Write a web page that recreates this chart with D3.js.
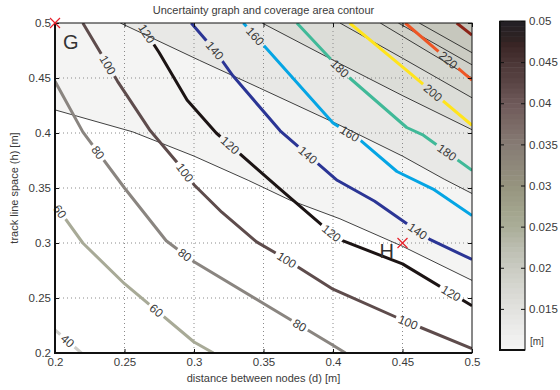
<!DOCTYPE html>
<meta charset="utf-8">
<head>
    <script src="https://cdn.jsdelivr.net/npm/d3@7"></script>
</head>
<style>
    body{ margin:0; background:#fff; }
    text{ font-family: "Liberation Sans", Arial, sans-serif; fill:#3a3a3a; }
</style>
<svg width="560" height="390"></svg>
<script>
    var xTicks = [0.2,0.25,0.3,0.35,0.4,0.45,0.5],
        yTicks = [0.2,0.25,0.3,0.35,0.4,0.45,0.5],
        cbTicks = [0.015,0.02,0.025,0.03,0.035,0.04,0.045,0.05];

    // uncertainty contours, thin black lines, points [d, h]
    var u1 = [[0.2,0.421],[0.256,0.401],[0.30,0.379],[0.339,0.357],[0.369,0.339],[0.405,0.322],[0.45,0.297],[0.5,0.266]],
        u2 = [[0.247,0.5],[0.304,0.466],[0.347,0.441],[0.405,0.407],[0.45,0.379],[0.48,0.358],[0.5,0.345]],
        u3 = [[0.349,0.5],[0.405,0.463],[0.45,0.434],[0.5,0.403]],
        u4 = [[0.405,0.5],[0.45,0.468],[0.5,0.432]],
        u5 = [[0.434,0.5],[0.5,0.45]],
        u6 = [[0.447,0.5],[0.5,0.462]],
        u7 = [[0.462,0.5],[0.5,0.473]];
    var uLevels = [0.0106,0.0135,0.0162,0.0176,0.0188,0.0198,0.0207];

    // coverage area contours, coloured lines
    var c40  = [[0.2,0.221],[0.219,0.2]],
        c60  = [[0.2,0.335],[0.22,0.300],[0.25,0.263],[0.30,0.210],[0.314,0.2]],
        c80  = [[0.2,0.447],[0.22,0.401],[0.25,0.350],[0.28,0.302],[0.30,0.283],[0.35,0.245],[0.40,0.207],[0.409,0.2]],
        c100 = [[0.22,0.5],[0.245,0.447],[0.268,0.403],[0.29,0.37],[0.30,0.353],[0.32,0.328],[0.345,0.301],[0.36,0.290],[0.40,0.258],[0.45,0.230],[0.5,0.204]],
        c120 = [[0.261,0.5],[0.275,0.473],[0.295,0.43],[0.316,0.400],[0.362,0.349],[0.395,0.313],[0.405,0.303],[0.45,0.281],[0.5,0.243]],
        c140 = [[0.298,0.5],[0.315,0.475],[0.328,0.452],[0.362,0.402],[0.403,0.357],[0.43,0.338],[0.455,0.316],[0.47,0.303],[0.5,0.285]],
        c160 = [[0.3355,0.5],[0.352,0.477],[0.40,0.409],[0.42,0.393],[0.446,0.365],[0.472,0.349],[0.5,0.325]],
        c180 = [[0.374,0.5],[0.400,0.465],[0.412,0.450],[0.453,0.405],[0.465,0.398],[0.5,0.366]],
        c200 = [[0.412,0.5],[0.453,0.457],[0.5,0.407]],
        c220 = [[0.452,0.5],[0.5,0.448]],
        c240 = [[0.489,0.5],[0.5,0.489]];
    var levels = [40,60,80,100,120,140,160,180,200,220,240],
        levelColors = ['#cfcfcb','#a8aa97','#8a8580','#5e4c4c','#1c1414','#2b3595','#05a5e4','#40b998','#ffe41c','#ee5524','#8c2418'];

    // labels: [level, d]
    var labelAt = [[40,0.209],[60,0.2036],[60,0.273],[80,0.231],[80,0.2935],[80,0.376],
                   [100,0.238],[100,0.2935],[100,0.3667],[100,0.454],
                   [120,0.266],[120,0.326],[120,0.399],[120,0.485],
                   [140,0.315],[140,0.382],[140,0.461],[160,0.344],[160,0.412],
                   [180,0.405],[180,0.482],[200,0.472],[220,0.483]];

    // colormap stops
    var cmapVals = [0.01,0.0125,0.015,0.0175,0.02,0.0225,0.025,0.0275,0.03,0.0325,0.035,0.0375,0.04,0.0425,0.045,0.047,0.048,0.05],
        cmapCols = ['#f6f6f6','#ececea','#e2e2df','#d6d7d1','#cacbc2','#bbbdb0','#aaad98','#a0a18a','#96947f','#8e877a','#867b74','#7a6a66','#6e5959','#5a4545','#4b3636','#3b2626','#2e2222','#222025'];

    var uLines = [u1,u2,u3,u4,u5,u6,u7];
    var cLines = [c40,c60,c80,c100,c120,c140,c160,c180,c200,c220,c240];

    var svg = d3.select('svg');
    var L = 55, R = 472, T = 23, B = 353;
    var x = d3.scaleLinear().domain([0.2,0.5]).range([L,R]),
        y = d3.scaleLinear().domain([0.2,0.5]).range([B,T]),
        color = d3.scaleLinear().domain(cmapVals).range(cmapCols).interpolate(d3.interpolateRgb),
        cy = d3.scaleLinear().domain([0.01,0.05]).range([350,21]);

    var line = d3.line().x(function(d){ return x(d[0]); }).y(function(d){ return y(d[1]); });

    var defs = svg.append('defs');
    defs.append('clipPath').attr('id','plot').append('rect')
        .attr('x',L).attr('y',T).attr('width',R-L).attr('height',B-T);

    var g = svg.append('g').attr('clip-path','url(#plot)');
    g.append('rect').attr('x',L).attr('y',T).attr('width',R-L).attr('height',B-T).style('fill','#fff');

    // filled bands: area above/right of each uncertainty line
    uLines.forEach(function(pts,i){
        var poly = pts.concat([[0.5,0.5],[pts[0][0],0.5]]);
        g.append('path').attr('d', line(poly)+'Z').style('fill', color(uLevels[i])).style('stroke','none');
    });

    // grid
    var grid = g.append('g').style('stroke','#8a8a8a').style('stroke-dasharray','1,3').style('stroke-width',1);
    xTicks.slice(1,-1).forEach(function(t){
        grid.append('line').attr('x1',x(t)).attr('x2',x(t)).attr('y1',T).attr('y2',B);
    });
    yTicks.slice(1,-1).forEach(function(t){
        grid.append('line').attr('y1',y(t)).attr('y2',y(t)).attr('x1',L).attr('x2',R);
    });

    uLines.forEach(function(pts){
        g.append('path').attr('d', line(pts)).style('fill','none').style('stroke','#111').style('stroke-width',0.8);
    });

    // label placement
    function pointAt(pts, d){
        var px = x(d);
        for(var i=0;i<pts.length-1;i++){
            var x0 = x(pts[i][0]), x1 = x(pts[i+1][0]);
            if(px >= x0 && px <= x1 || i == pts.length-2){
                var y0 = y(pts[i][1]), y1 = y(pts[i+1][1]);
                var t = (px-x0)/(x1-x0);
                return {x:px, y:y0+t*(y1-y0), a:Math.atan2(y1-y0, x1-x0)*180/Math.PI};
            }
        }
    }
    var labels = labelAt.map(function(l){
        var p = pointAt(cLines[levels.indexOf(l[0])], l[1]);
        p.text = String(l[0]);
        return p;
    });

    var mask = defs.append('mask').attr('id','gaps').attr('maskUnits','userSpaceOnUse')
        .attr('x',0).attr('y',0).attr('width',560).attr('height',390);
    mask.append('rect').attr('x',0).attr('y',0).attr('width',560).attr('height',390).style('fill','#fff');
    labels.forEach(function(p){
        var w = p.text.length*7+5;
        mask.append('rect').attr('x',-w/2).attr('y',-6).attr('width',w).attr('height',12)
            .attr('transform','translate('+p.x+','+p.y+') rotate('+p.a+')').style('fill','#000');
    });

    var cg = g.append('g').attr('mask','url(#gaps)');
    cLines.forEach(function(pts,i){
        cg.append('path').attr('d', line(pts)).style('fill','none')
            .style('stroke', levelColors[i]).style('stroke-width',3).style('stroke-linejoin','round');
    });

    labels.forEach(function(p){
        svg.append('text').text(p.text)
            .attr('transform','translate('+p.x+','+p.y+') rotate('+p.a+')')
            .attr('text-anchor','middle').attr('dy','0.36em').style('font-size','12px');
    });

    // box and axes
    svg.append('rect').attr('x',L).attr('y',T).attr('width',R-L).attr('height',B-T)
        .style('fill','none').style('stroke','#111').style('stroke-width',1);
    svg.append('path').attr('d','M'+L+','+T+'V'+B+'H'+R).style('fill','none').style('stroke','#111').style('stroke-width',2);

    function styleAxis(sel){
        sel.select('.domain').remove();
        sel.selectAll('line').style('stroke','#111');
        sel.selectAll('text').style('font-size','11.5px').style('fill','#3a3a3a').style('font-family','"Liberation Sans", Arial, sans-serif');
    }
    svg.append('g').attr('transform','translate(0,'+B+')')
        .call(d3.axisBottom(x).tickValues(xTicks).tickFormat(d3.format('')).tickSize(-4).tickPadding(5)).call(styleAxis);
    svg.append('g').attr('transform','translate(0,'+T+')')
        .call(d3.axisTop(x).tickValues(xTicks).tickFormat('').tickSize(-4)).call(styleAxis);
    svg.append('g').attr('transform','translate('+L+',0)')
        .call(d3.axisLeft(y).tickValues(yTicks).tickFormat(d3.format('')).tickSize(-4).tickPadding(4)).call(styleAxis);
    svg.append('g').attr('transform','translate('+R+',0)')
        .call(d3.axisRight(y).tickValues(yTicks).tickFormat('').tickSize(-4)).call(styleAxis);

    // markers
    [[0.2,0.5],[0.45,0.3]].forEach(function(m){
        var mx = x(m[0]), my = y(m[1]), s = 5;
        svg.append('path').attr('d','M'+(mx-s)+','+(my-s)+'L'+(mx+s)+','+(my+s)+'M'+(mx-s)+','+(my+s)+'L'+(mx+s)+','+(my-s))
            .style('stroke','#e8202a').style('stroke-width',1.2);
    });
    svg.append('text').text('G').attr('x',x(0.2)+8).attr('y',y(0.5)+26).style('font-size','20px').style('fill','#333');
    svg.append('text').text('H').attr('x',x(0.45)-23).attr('y',y(0.3)+15).style('font-size','20px').style('fill','#333');

    // titles
    svg.append('text').text('Uncertainty graph and coverage area contour')
        .attr('x',(L+R)/2).attr('y',14).attr('text-anchor','middle').style('font-size','11px');
    svg.append('text').text('distance between nodes (d) [m]')
        .attr('x',(L+R)/2).attr('y',382).attr('text-anchor','middle').style('font-size','11px');
    svg.append('text').text('track line space (h) [m]')
        .attr('transform','translate(18,'+((T+B)/2)+') rotate(-90)').attr('text-anchor','middle').style('font-size','11px');

    // colorbar
    var cbX = 500, cbW = 25, steps = 64;
    var cb = svg.append('g');
    d3.range(steps).forEach(function(i){
        var v0 = 0.01 + i*(0.04/steps), v1 = v0 + 0.04/steps;
        cb.append('rect').attr('x',cbX).attr('width',cbW)
            .attr('y',cy(v1)).attr('height',cy(v0)-cy(v1)+0.5)
            .style('fill', color((v0+v1)/2));
    });
    cb.append('rect').attr('x',cbX).attr('y',cy(0.05)).attr('width',cbW).attr('height',cy(0.01)-cy(0.05))
        .style('fill','none').style('stroke','#111').style('stroke-width',1);
    svg.append('path').attr('d','M'+cbX+','+cy(0.05)+'V'+cy(0.01)+'H'+(cbX+cbW))
        .style('fill','none').style('stroke','#111').style('stroke-width',2);
    svg.append('g').attr('transform','translate('+(cbX+cbW)+',0)')
        .call(d3.axisRight(cy).tickValues(cbTicks).tickFormat(d3.format('')).tickSize(-4).tickPadding(4)).call(styleAxis);
    svg.append('g').attr('transform','translate('+cbX+',0)')
        .call(d3.axisLeft(cy).tickValues(cbTicks).tickFormat('').tickSize(-4)).call(styleAxis);
    svg.append('text').text('[m]').attr('x',530).attr('y',345).style('font-size','10px');
</script>
